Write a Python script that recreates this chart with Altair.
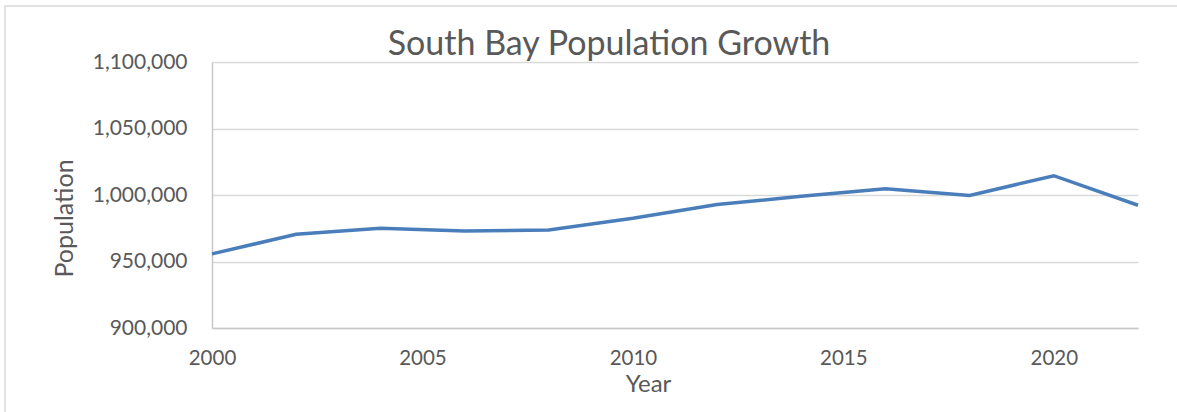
import altair as alt
import pandas as pd

years = [2000, 2002, 2004, 2006, 2008, 2010, 2012, 2014, 2016, 2018, 2020, 2022]
population = [955700, 970500, 975000, 972900, 973700, 982500, 992800, 999000, 1004700, 999700, 1014500, 992300]
x_ticks = [2000, 2005, 2010, 2015, 2020]
y_ticks = [900000, 950000, 1000000, 1050000, 1100000]
title_text = ["South Bay Population Growth"]

df = pd.DataFrame({"Year": years, "Population": population})

FONT = "Lato"
GRAY = "#595959"
W, H = 926, 266
LEFT, TOP = 212, 62

line = alt.Chart(df).mark_line(color="#4a7ebb", strokeWidth=3.5, clip=False).encode(
    x=alt.X(
        "Year:Q",
        scale=alt.Scale(domain=[2000, 2022], nice=False, zero=False),
        axis=alt.Axis(
            values=x_ticks, format="d", title="Year", grid=False, labelFlush=False,
            ticks=False, tickSize=0, labelPadding=36, labelBaseline="alphabetic",
            labelFont=FONT, labelFontSize=20.5, labelColor=GRAY,
            domainColor="#c8c8c8", domainWidth=1.5,
            titleFont=FONT, titleFontSize=24, titleColor=GRAY, titleFontWeight="normal",
            titleX=436, titleY=63, titleBaseline="alphabetic", titleAlign="center",
        ),
    ),
    y=alt.Y(
        "Population:Q",
        scale=alt.Scale(domain=[900000, 1100000], nice=False, zero=False),
        axis=alt.Axis(
            values=y_ticks, format=",d", title="Population", grid=True,
            gridColor="#d9d9d9", gridWidth=1.5, labelFlush=False,
            ticks=False, tickSize=0, labelPadding=25,
            labelFont=FONT, labelFontSize=21, labelColor=GRAY,
            domainColor="#c8c8c8", domainWidth=1.5,
            titleFont=FONT, titleFontSize=25, titleColor=GRAY, titleFontWeight="normal",
            titleAngle=270, titleX=-148, titleY=156, titleBaseline="middle", titleAlign="center",
        ),
    ),
)

border = alt.Chart(pd.DataFrame({"b": [0]})).mark_rect(
    filled=False, stroke="#d9d9d9", strokeWidth=1.5, clip=False
).encode(
    x=alt.value(5 - LEFT), x2=alt.value(1190 - LEFT),
    y=alt.value(6 - TOP), y2=alt.value(430 - TOP),
)

title = alt.Chart(pd.DataFrame({"t": title_text})).mark_text(
    font=FONT, fontSize=34, color=GRAY, align="center", baseline="alphabetic", clip=False
).encode(
    text="t:N", x=alt.value(609 - LEFT), y=alt.value(55 - TOP),
)

chart = alt.layer(border, line, title).properties(
    width=W, height=H,
    background="white",
    autosize=alt.AutoSizeParams(type="none"),
    padding={"left": LEFT, "top": TOP, "right": 1177 - LEFT - W, "bottom": 412 - TOP - H},
).configure_view(stroke="transparent", strokeWidth=0)

chart.save("out.html", embed_options={"renderer": "svg", "actions": False})
